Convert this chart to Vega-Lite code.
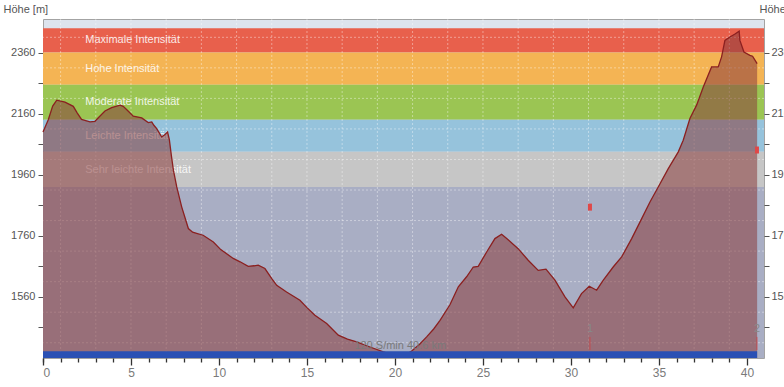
{
  "$schema": "https://vega.github.io/schema/vega-lite/v6.json",
  "width": 721,
  "height": 339,
  "autosize": {"type": "none"},
  "padding": {"left": 43, "top": 19, "right": 20, "bottom": 29},
  "background": "white",
  "config": {
    "view": {"stroke": "#a3a3a3", "fill": "#dde4ee"},
    "font": "Liberation Sans",
    "axis": {"labelFont": "Liberation Sans", "titleFont": "Liberation Sans", "labelFontSize": 11, "labelColor": "#555555", "tickColor": "#555555", "domain": false, "grid": false, "titleFontWeight": "normal", "titleFontSize": 11, "titleColor": "#555555"}
  },
  "datasets": {
    "zones": [
      {"zone": "Maximale Intensität", "lo": 2360, "hi": 2440, "mid": 2400},
      {"zone": "Hohe Intensität", "lo": 2255, "hi": 2360, "mid": 2307},
      {"zone": "Moderate Intensität", "lo": 2140, "hi": 2255, "mid": 2197},
      {"zone": "Leichte Intensität", "lo": 2035, "hi": 2140, "mid": 2087},
      {"zone": "Sehr leichte Intensität", "lo": 1920, "hi": 2035, "mid": 1977},
      {"zone": "Unter", "lo": 1360, "hi": 1920}
    ],
    "vgrid": [{"km": 1}, {"km": 3}, {"km": 5}, {"km": 7}, {"km": 9}, {"km": 11}, {"km": 13}, {"km": 15}, {"km": 17}, {"km": 19}, {"km": 21}, {"km": 23}, {"km": 25}, {"km": 27}, {"km": 29}, {"km": 31}, {"km": 33}, {"km": 35}, {"km": 37}, {"km": 39}],
    "hgrid": [{"h": 1410}, {"h": 1510}, {"h": 1610}, {"h": 1710}, {"h": 1810}, {"h": 1910}, {"h": 2010}, {"h": 2110}, {"h": 2210}, {"h": 2310}, {"h": 2410}],
    "profile": [
      {"km": 0.0, "h": 2100}, {"km": 0.3, "h": 2140}, {"km": 0.55, "h": 2185}, {"km": 0.78, "h": 2204},
      {"km": 1.25, "h": 2198}, {"km": 1.72, "h": 2184}, {"km": 1.95, "h": 2162}, {"km": 2.19, "h": 2141},
      {"km": 2.67, "h": 2133}, {"km": 2.95, "h": 2135}, {"km": 3.2, "h": 2150}, {"km": 3.52, "h": 2169},
      {"km": 3.9, "h": 2180}, {"km": 4.38, "h": 2188}, {"km": 4.56, "h": 2184}, {"km": 4.85, "h": 2168},
      {"km": 5.13, "h": 2152}, {"km": 5.61, "h": 2146}, {"km": 5.98, "h": 2131}, {"km": 6.18, "h": 2133},
      {"km": 6.3, "h": 2122}, {"km": 6.46, "h": 2111}, {"km": 6.74, "h": 2084}, {"km": 6.9, "h": 2090},
      {"km": 7.08, "h": 2100}, {"km": 7.18, "h": 2075}, {"km": 7.3, "h": 2020}, {"km": 7.41, "h": 1975},
      {"km": 7.6, "h": 1920}, {"km": 7.88, "h": 1855}, {"km": 8.26, "h": 1784}, {"km": 8.5, "h": 1772},
      {"km": 8.73, "h": 1768}, {"km": 9.1, "h": 1762}, {"km": 9.68, "h": 1740}, {"km": 10.1, "h": 1715},
      {"km": 10.81, "h": 1686}, {"km": 11.2, "h": 1675}, {"km": 11.66, "h": 1660}, {"km": 12.0, "h": 1662},
      {"km": 12.23, "h": 1664}, {"km": 12.61, "h": 1653}, {"km": 13.0, "h": 1620}, {"km": 13.28, "h": 1598},
      {"km": 13.84, "h": 1576}, {"km": 14.6, "h": 1549}, {"km": 15.0, "h": 1525}, {"km": 15.45, "h": 1500},
      {"km": 16.12, "h": 1473}, {"km": 16.78, "h": 1435}, {"km": 17.3, "h": 1422}, {"km": 17.82, "h": 1413},
      {"km": 18.58, "h": 1396}, {"km": 19.34, "h": 1380}, {"km": 19.8, "h": 1372}, {"km": 20.3, "h": 1368},
      {"km": 20.7, "h": 1374}, {"km": 20.95, "h": 1383}, {"km": 21.4, "h": 1405}, {"km": 21.8, "h": 1429},
      {"km": 22.2, "h": 1455}, {"km": 22.56, "h": 1483}, {"km": 23.13, "h": 1535}, {"km": 23.6, "h": 1593},
      {"km": 24.07, "h": 1626}, {"km": 24.45, "h": 1658}, {"km": 24.73, "h": 1660}, {"km": 25.21, "h": 1707},
      {"km": 25.68, "h": 1751}, {"km": 26.06, "h": 1765}, {"km": 26.35, "h": 1751}, {"km": 27.0, "h": 1718},
      {"km": 27.57, "h": 1680}, {"km": 28.14, "h": 1647}, {"km": 28.58, "h": 1651}, {"km": 29.09, "h": 1615},
      {"km": 29.66, "h": 1560}, {"km": 30.13, "h": 1524}, {"km": 30.6, "h": 1571}, {"km": 31.04, "h": 1595},
      {"km": 31.46, "h": 1582}, {"km": 31.84, "h": 1615}, {"km": 32.4, "h": 1658}, {"km": 32.88, "h": 1691},
      {"km": 33.45, "h": 1751}, {"km": 33.92, "h": 1805}, {"km": 34.49, "h": 1871}, {"km": 34.96, "h": 1920},
      {"km": 35.53, "h": 1980}, {"km": 36.1, "h": 2035}, {"km": 36.38, "h": 2073}, {"km": 36.76, "h": 2144},
      {"km": 37.14, "h": 2188}, {"km": 37.52, "h": 2247}, {"km": 37.99, "h": 2313}, {"km": 38.37, "h": 2313},
      {"km": 38.56, "h": 2346}, {"km": 38.75, "h": 2400}, {"km": 39.03, "h": 2411}, {"km": 39.3, "h": 2420},
      {"km": 39.56, "h": 2430}, {"km": 39.6, "h": 2400}, {"km": 39.83, "h": 2362}, {"km": 40.17, "h": 2351},
      {"km": 40.32, "h": 2348}, {"km": 40.58, "h": 2324}
    ],
    "laps": [
      {"lap": "1", "km": 31.08, "lo": 1386, "hi": 1429, "lab": 1455, "hr": 1854},
      {"lap": "2", "km": 40.57, "lo": 1386, "hi": 1429, "lab": 1455, "hr": 2041}
    ],
    "bar": [{"from": 0, "to": 40.58, "lo": 1360, "hi": 1382}],
    "note": [{"km": 20.3, "h": 1398, "text": "120 S/min 40.6 km"}]
  },
  "resolve": {"axis": {"y": "independent", "x": "independent"}},
  "layer": [
    {
      "data": {"name": "zones"},
      "mark": {"type": "rect"},
      "encoding": {
        "y": {"field": "lo", "type": "quantitative", "scale": {"domain": [1360, 2470], "nice": false, "zero": false},
          "axis": {"orient": "left", "values": [1460, 1560, 1660, 1760, 1860, 1960, 2060, 2160, 2260, 2360], "labelExpr": "(datum.value - 1560) % 200 == 0 ? datum.label : ''", "format": "d", "tickSize": 5, "labelPadding": 3, "title": "Höhe [m]", "titleAngle": 0, "titleAlign": "left", "titleBaseline": "middle", "titleX": -40, "titleY": -10}},
        "y2": {"field": "hi"},
        "color": {"field": "zone", "type": "nominal", "legend": null,
          "scale": {"domain": ["Maximale Intensität", "Hohe Intensität", "Moderate Intensität", "Leichte Intensität", "Sehr leichte Intensität", "Unter"],
                    "range": ["#e8604c", "#f4b454", "#9bc553", "#96c3dc", "#c6c6c6", "#a9aec4"]}}
      }
    },
    {
      "data": {"name": "vgrid"},
      "mark": {"type": "rule", "color": "#ffffff", "opacity": 0.4, "strokeDash": [2, 2], "strokeWidth": 1},
      "encoding": {"x": {"field": "km", "type": "quantitative", "scale": {"domain": [0, 40.97], "nice": false, "zero": false},
        "axis": {"orient": "bottom", "values": [0,1,2,3,4,6,7,8,9,11,12,13,14,16,17,18,19,21,22,23,24,26,27,28,29,31,32,33,34,36,37,38,39], "labels": false, "tickColor": "#333333", "tickWidth": 1.3, "tickSize": 4, "title": null}}}
    },
    {
      "data": {"name": "hgrid"},
      "mark": {"type": "rule", "color": "#ffffff", "opacity": 0.4, "strokeDash": [2, 2], "strokeWidth": 1},
      "encoding": {"y": {"field": "h", "type": "quantitative", "axis": null}}
    },
    {
      "data": {"name": "zones"},
      "transform": [{"filter": "datum.zone != 'Unter'"}],
      "mark": {"type": "text", "align": "left", "baseline": "middle", "fontSize": 11, "color": "#ffffff", "opacity": 0.85},
      "encoding": {
        "x": {"datum": 2.4, "type": "quantitative", "axis": null},
        "y": {"field": "mid", "type": "quantitative", "axis": null},
        "text": {"field": "zone"}
      }
    },
    {
      "data": {"name": "profile"},
      "mark": {"type": "area", "color": "#8a3c3c", "opacity": 0.55},
      "encoding": {
        "x": {"field": "km", "type": "quantitative",
          "axis": {"orient": "bottom", "values": [0, 5, 10, 15, 20, 25, 30, 35, 40], "labelFontSize": 12, "labelColor": "#7a7a7a", "tickColor": "#333333", "tickWidth": 1.3, "tickSize": 7, "labelPadding": 2, "title": null}},
        "y": {"field": "h", "type": "quantitative",
          "axis": {"orient": "right", "values": [1460, 1560, 1660, 1760, 1860, 1960, 2060, 2160, 2260, 2360], "labelExpr": "(datum.value - 1560) % 200 == 0 ? datum.label : ''", "format": "d", "tickSize": 5, "labelPadding": 2, "title": "Höhe [m]", "titleAngle": 0, "titleAlign": "left", "titleBaseline": "middle", "titleX": -5, "titleY": -10}},
        "y2": {"datum": 1360}
      }
    },
    {
      "data": {"name": "profile"},
      "mark": {"type": "line", "color": "#8b2020", "strokeWidth": 1.3},
      "encoding": {
        "x": {"field": "km", "type": "quantitative", "axis": null},
        "y": {"field": "h", "type": "quantitative", "axis": null}
      }
    },
    {
      "data": {"name": "bar"},
      "mark": {"type": "rect", "color": "#2a50b4"},
      "encoding": {
        "x": {"field": "from", "type": "quantitative", "axis": null},
        "x2": {"field": "to"},
        "y": {"field": "lo", "type": "quantitative", "axis": null},
        "y2": {"field": "hi"}
      }
    },
    {
      "data": {"name": "note"},
      "mark": {"type": "text", "align": "center", "baseline": "middle", "fontSize": 11, "color": "#7a7a7a"},
      "encoding": {
        "x": {"field": "km", "type": "quantitative", "axis": null},
        "y": {"field": "h", "type": "quantitative", "axis": null},
        "text": {"field": "text"}
      }
    },
    {
      "data": {"name": "laps"},
      "mark": {"type": "rule", "color": "#e03030", "opacity": 0.6, "strokeWidth": 1},
      "encoding": {
        "x": {"field": "km", "type": "quantitative", "axis": null},
        "y": {"field": "lo", "type": "quantitative", "axis": null},
        "y2": {"field": "hi"}
      }
    },
    {
      "data": {"name": "laps"},
      "mark": {"type": "text", "align": "center", "baseline": "middle", "fontSize": 11, "color": "#888888"},
      "encoding": {
        "x": {"field": "km", "type": "quantitative", "axis": null},
        "y": {"field": "lab", "type": "quantitative", "axis": null},
        "text": {"field": "lap"}
      }
    },
    {
      "data": {"name": "laps"},
      "mark": {"type": "tick", "orient": "vertical", "color": "#e04848", "size": 7, "thickness": 4, "opacity": 1},
      "encoding": {
        "x": {"field": "km", "type": "quantitative", "axis": null},
        "y": {"field": "hr", "type": "quantitative", "axis": null}
      }
    }
  ]
}
